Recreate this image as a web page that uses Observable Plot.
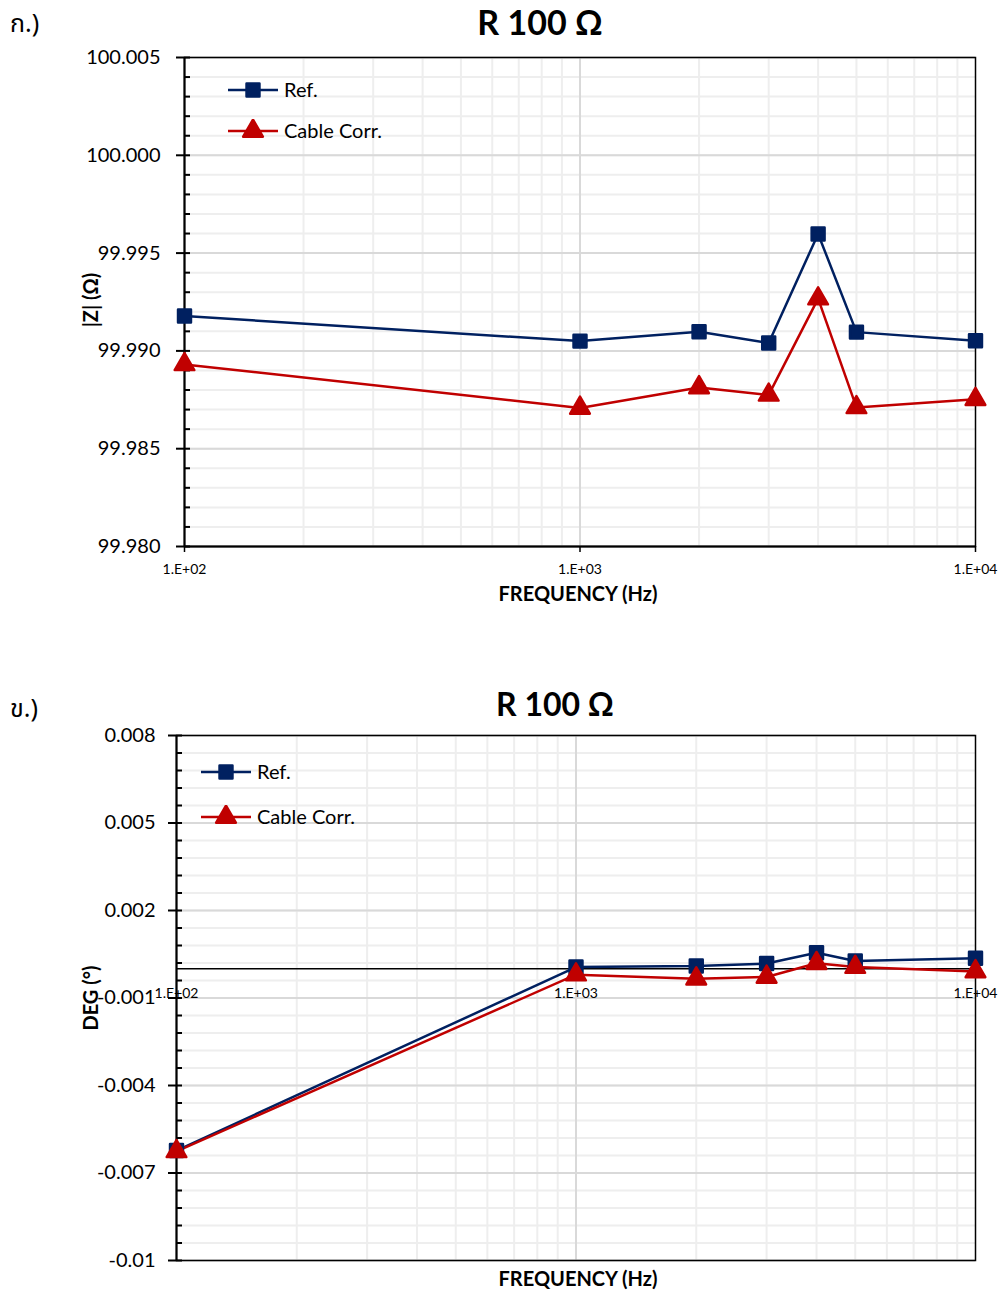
<!DOCTYPE html>
<html><head><meta charset="utf-8">
<script src="https://cdn.jsdelivr.net/npm/d3@7"></script>
<script src="https://cdn.jsdelivr.net/npm/@observablehq/plot@0.6"></script>
<style>
body{margin:0;background:#fff;}
#page{position:relative;width:1005px;height:1293px;overflow:hidden;font-family:Lato,"Open Sans",sans-serif;color:#000;}
#page svg{position:absolute;left:0;}
.t{position:absolute;white-space:nowrap;line-height:1;color:#000;}
</style></head><body><div id="page"></div>
<script>
// ---------- data ----------
const freqs = [100, 1000, 2000, 3000, 4000, 5000, 10000];
const zRef   = [99.99178, 99.99050, 99.99098, 99.99040, 99.99598, 99.99096, 99.99052];
const zCable = [99.98931, 99.98708, 99.98813, 99.98775, 99.99267, 99.98711, 99.98753];
const degRef   = [-0.00623, 0.00006, 0.00010, 0.00018, 0.00055, 0.00027, 0.00036];
const degCable = [-0.00626, -0.00020, -0.00034, -0.00028, 0.00019, 0.00006, -0.00009];
const seriesNames = ["Ref.", "Cable Corr."];
const xTicks = [100, 1000, 10000];
const xTickLabels = ["1.E+02", "1.E+03", "1.E+04"];
const zTicks = [99.980, 99.985, 99.990, 99.995, 100.000, 100.005];
const zTickLabels = ["99.980", "99.985", "99.990", "99.995", "100.000", "100.005"];
const degTicks = [0.008, 0.005, 0.002, -0.001, -0.004, -0.007, -0.01];
const degTickLabels = ["0.008", "0.005", "0.002", "-0.001", "-0.004", "-0.007", "-0.01"];
const titleText = "R 100 Ω";
const xLabel = "FREQUENCY (Hz)";
const zLabel = "|Z| (Ω)";
const degLabel = "DEG (°)";

// ---------- styling ----------
const NAVY = "#002060", RED = "#C00000";
const GRID_MINOR = "#eeeeee", GRID_MAJOR = "#d9d9d9";
const page = document.getElementById("page");

const xMinor = [];
for (const dec of [100, 1000]) for (let k = 2; k <= 9; k++) xMinor.push(dec * k);
const zMinor = d3.range(0, 26).map(i => Math.round((99.980 + i * 0.001) * 1e6) / 1e6);
const degMinor = d3.range(0, 31).map(i => Math.round((-0.01 + i * 0.0006) * 1e7) / 1e7);

const toRows = (vals) => freqs.map((f, i) => ({f, v: vals[i]}));

function chart({height, top, marginLeft, marginTop, marginBottom, domain, minor, major, majorLabels, refVals, cableVals, tickPadding, zeroAxis}) {
  const ref = toRows(refVals), cab = toRows(cableVals);
  const fmtY = d => majorLabels[major.findIndex(t => Math.abs(t - d) < 1e-9)];
  const fmtX = d => xTickLabels[xTicks.indexOf(d)];
  const marks = [
    Plot.ruleY(minor, {stroke: GRID_MINOR, strokeWidth: 2}),
    Plot.ruleX(xMinor, {stroke: GRID_MINOR, strokeWidth: 2}),
    Plot.ruleY(major, {stroke: GRID_MAJOR, strokeWidth: 2}),
    Plot.ruleX([1000], {stroke: GRID_MAJOR, strokeWidth: 2}),
    Plot.frame({stroke: "#000", strokeWidth: 1.5}),
    Plot.ruleX([100], {stroke: "#000", strokeWidth: 2}),
    Plot.axisY(major, {tickSize: 8, tickPadding, fontSize: 20, tickFormat: fmtY, label: null, strokeWidth: 2}),
    Plot.axisY(minor, {tickSize: 6, dx: 6, tickFormat: () => "", label: null, strokeWidth: 2}),
  ];
  if (zeroAxis) {
    marks.push(Plot.ruleY([0], {stroke: "#000", strokeWidth: 1.5}));
    marks.push(Plot.text(xTicks, {x: d => d, y: 0, dy: 25, text: fmtX, fontSize: 14, fill: "#000"}));
  } else {
    marks.push(Plot.ruleY([domain[0]], {stroke: "#000", strokeWidth: 2}));
    marks.push(Plot.axisX(xTicks, {tickSize: 6, tickPadding: 12, fontSize: 14, tickFormat: fmtX, label: null, strokeWidth: 1.5}));
  }
  marks.push(
    Plot.line(ref, {x: "f", y: "v", stroke: NAVY, strokeWidth: 2.5}),
    Plot.line(cab, {x: "f", y: "v", stroke: RED, strokeWidth: 2.5}),
    Plot.dot(ref, {x: "f", y: "v", symbol: "square", r: 7.3, fill: NAVY, stroke: NAVY, strokeWidth: 2.5, strokeLinejoin: "round"}),
    Plot.dot(cab, {x: "f", y: "v", symbol: "triangle", r: 7.3, fill: RED, stroke: RED, strokeWidth: 2.5, strokeLinejoin: "round"})
  );
  const svg = Plot.plot({
    width: 1005, height, marginLeft, marginRight: 30, marginTop, marginBottom,
    style: {fontFamily: "Lato, 'Open Sans', sans-serif", color: "#000", background: "transparent", overflow: "visible"},
    x: {type: "log", domain: [100, 10000], axis: zeroAxis ? null : undefined},
    y: {domain},
    marks
  });
  svg.style.top = top + "px";
  page.appendChild(svg);
}

chart({height: 612, top: 0, marginLeft: 184, marginTop: 57, marginBottom: 66,
  domain: [99.980, 100.005], minor: zMinor, major: zTicks, majorLabels: zTickLabels,
  refVals: zRef, cableVals: zCable, tickPadding: 16, zeroAxis: false});
chart({height: 603, top: 690, marginLeft: 176, marginTop: 45, marginBottom: 33,
  domain: [-0.01, 0.008], minor: degMinor, major: degTicks, majorLabels: degTickLabels,
  refVals: degRef, cableVals: degCable, tickPadding: 13, zeroAxis: true});

// ---------- text ----------
function place(str, x, baseline, size, {weight = "normal", anchor = "start", family} = {}) {
  const d = document.createElement("div");
  d.className = "t";
  d.textContent = str;
  d.style.fontSize = size + "px";
  d.style.fontWeight = weight;
  if (family) d.style.fontFamily = family;
  d.style.top = (baseline - 0.89 * size) + "px";
  d.style.left = x + "px";
  if (anchor === "middle") d.style.transform = "translateX(-50%)";
  page.appendChild(d);
  return d;
}
function placeRot(str, cx, cy, size) {
  const d = document.createElement("div");
  d.className = "t";
  d.textContent = str;
  d.style.fontSize = size + "px";
  d.style.fontWeight = "bold";
  d.style.left = cx + "px";
  d.style.top = cy + "px";
  d.style.transform = "translate(-50%,-50%) rotate(-90deg)";
  page.appendChild(d);
}
place(titleText, 540, 35, 34, {weight: "bold", anchor: "middle"});
place(titleText, 555, 716, 32, {weight: "bold", anchor: "middle"});
place(xLabel, 578, 601, 20, {weight: "bold", anchor: "middle"});
place(xLabel, 578, 1286, 20, {weight: "bold", anchor: "middle"});
placeRot(zLabel, 90, 300, 20);
placeRot(degLabel, 90, 998, 20);
place("ก.)", 10, 34, 25, {family: "'Noto Sans Thai','Noto Sans',Lato,sans-serif"});
place("ข.)", 10, 719, 25, {family: "'Noto Sans Thai','Noto Sans',Lato,sans-serif"});

// ---------- legends ----------
function legendItem(x, cy, kind, label) {
  const ns = "http://www.w3.org/2000/svg";
  const s = document.createElementNS(ns, "svg");
  s.setAttribute("width", 52); s.setAttribute("height", 24);
  s.style.position = "absolute"; s.style.left = x + "px"; s.style.top = (cy - 12) + "px";
  const color = kind === "square" ? NAVY : RED;
  const ln = document.createElementNS(ns, "line");
  ln.setAttribute("x1", 1); ln.setAttribute("x2", 51); ln.setAttribute("y1", 12); ln.setAttribute("y2", 12);
  ln.setAttribute("stroke", color); ln.setAttribute("stroke-width", 2.5);
  s.appendChild(ln);
  const p = document.createElementNS(ns, "path");
  const sym = kind === "square" ? d3.symbolSquare : d3.symbolTriangle;
  p.setAttribute("d", d3.symbol(sym, Math.PI * 7.3 * 7.3)());
  p.setAttribute("transform", "translate(26,12)");
  p.setAttribute("fill", color); p.setAttribute("stroke", color);
  p.setAttribute("stroke-width", 2.5); p.setAttribute("stroke-linejoin", "round");
  s.appendChild(p);
  page.appendChild(s);
  place(label, x + 57, cy + 7, 20);
}
legendItem(227, 90, "square", seriesNames[0]);
legendItem(227, 131, "triangle", seriesNames[1]);
legendItem(200, 772, "square", seriesNames[0]);
legendItem(200, 817, "triangle", seriesNames[1]);
</script></body></html>
